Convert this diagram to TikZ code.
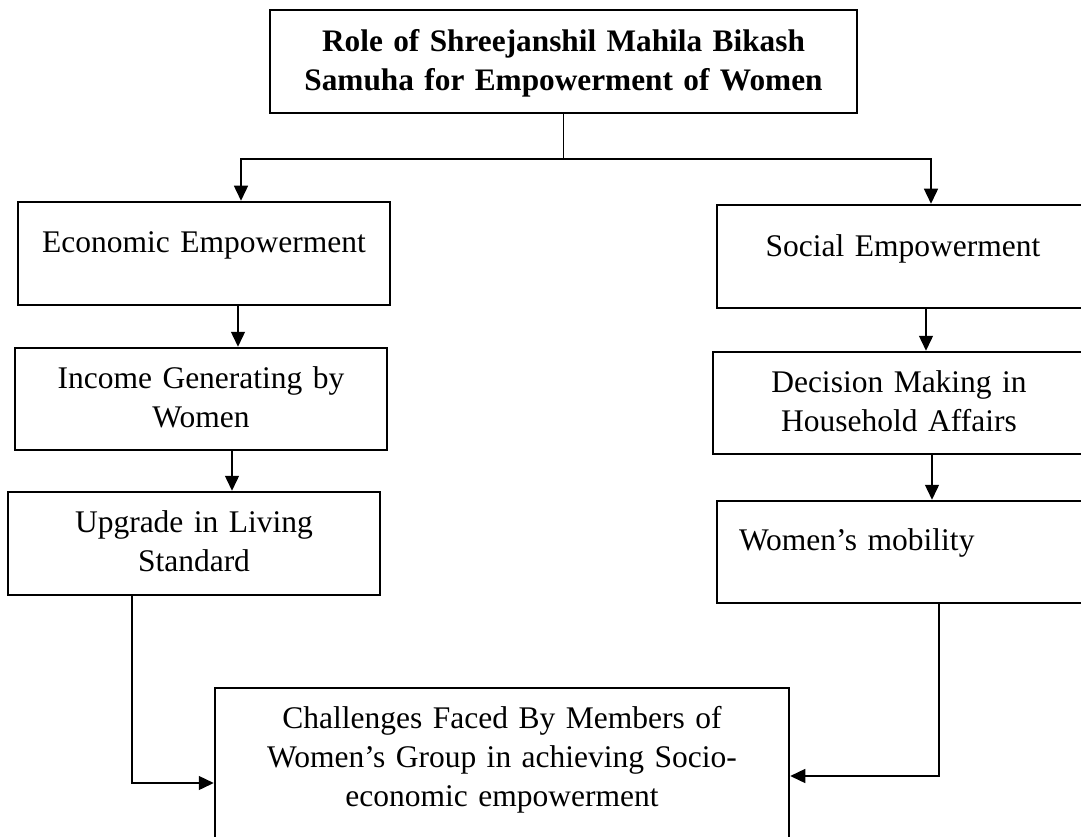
\documentclass[tikz,border=0pt]{standalone}
\usepackage{fontspec}
\setmainfont{Liberation Serif}
\usetikzlibrary{arrows.meta}
\tikzset{
	box/.style={draw, line width=2.5pt, inner sep=0pt, align=center,
		font=\fontsize{31.5}{39}\selectfont},
	link/.style={line width=1.4pt},
	arrow/.style={link, -{Triangle[length=15pt,width=14pt]}}
}

\begin{document}
\begin{tikzpicture}[x=1pt, y=-1pt]
		\useasboundingbox (0, 0) rectangle (1081, 837);
		\clip (0, 0) rectangle (1081, 837);

		\node[box, text width=587pt, text height=42pt, text depth=61pt, font=\fontsize{31.3}{39}\selectfont\bfseries] (title) at (563.5, 61.5) {Role of Shreejanshil Mahila Bikash\\ Samuha for Empowerment of Women};

		\node[box, text width=372pt, text height=50pt, text depth=53pt] (econ) at (204, 253.5) {Economic Empowerment};
		\node[box, text width=372pt, text height=40pt, text depth=62pt] (income) at (201, 399) {Income Generating by\\ Women};
		\node[box, text width=372pt, text height=40pt, text depth=63pt] (upgrade) at (194, 543.5) {Upgrade in Living\\ Standard};

		\node[box, text width=372pt, text height=51pt, text depth=52pt] (social) at (903, 256.5) {Social Empowerment};
		\node[box, text width=372pt, text height=40pt, text depth=62pt] (decision) at (899, 403) {Decision Making in\\ Household Affairs};
		\node[box, align=left, inner xsep=22pt, text width=328pt, text height=49pt, text depth=53pt] (mobility) at (903, 552) {Women’s mobility};

		\node[box, text width=574pt, text height=40pt, text depth=120pt] (challenge) at (502, 768) {Challenges Faced By Members of\\ Women’s Group in achieving Socio-\\ economic empowerment};

		\coordinate (fork) at (title.south |- 0, 159);
		\draw[link] (title.south) -- (fork);
		\draw[arrow] (fork) -| ([xshift=37pt]econ.north);
		\draw[arrow] (fork) -| ([xshift=28pt]social.north);

		\draw[arrow] ([xshift=34pt]econ.south) -- ([xshift=34pt]econ.south |- income.north);
		\draw[arrow] ([xshift=31pt]income.south) -- ([xshift=31pt]income.south |- upgrade.north);
		\draw[arrow] ([xshift=23pt]social.south) -- ([xshift=23pt]social.south |- decision.north);
		\draw[arrow] ([xshift=33pt]decision.south) -- ([xshift=33pt]decision.south |- mobility.north);

		\draw[arrow] ([xshift=-62pt]upgrade.south) |- ([yshift=-15pt]challenge.west);
		\draw[arrow] ([xshift=36pt]mobility.south) |- ([yshift=-8pt]challenge.east);
\end{tikzpicture}
\end{document}
